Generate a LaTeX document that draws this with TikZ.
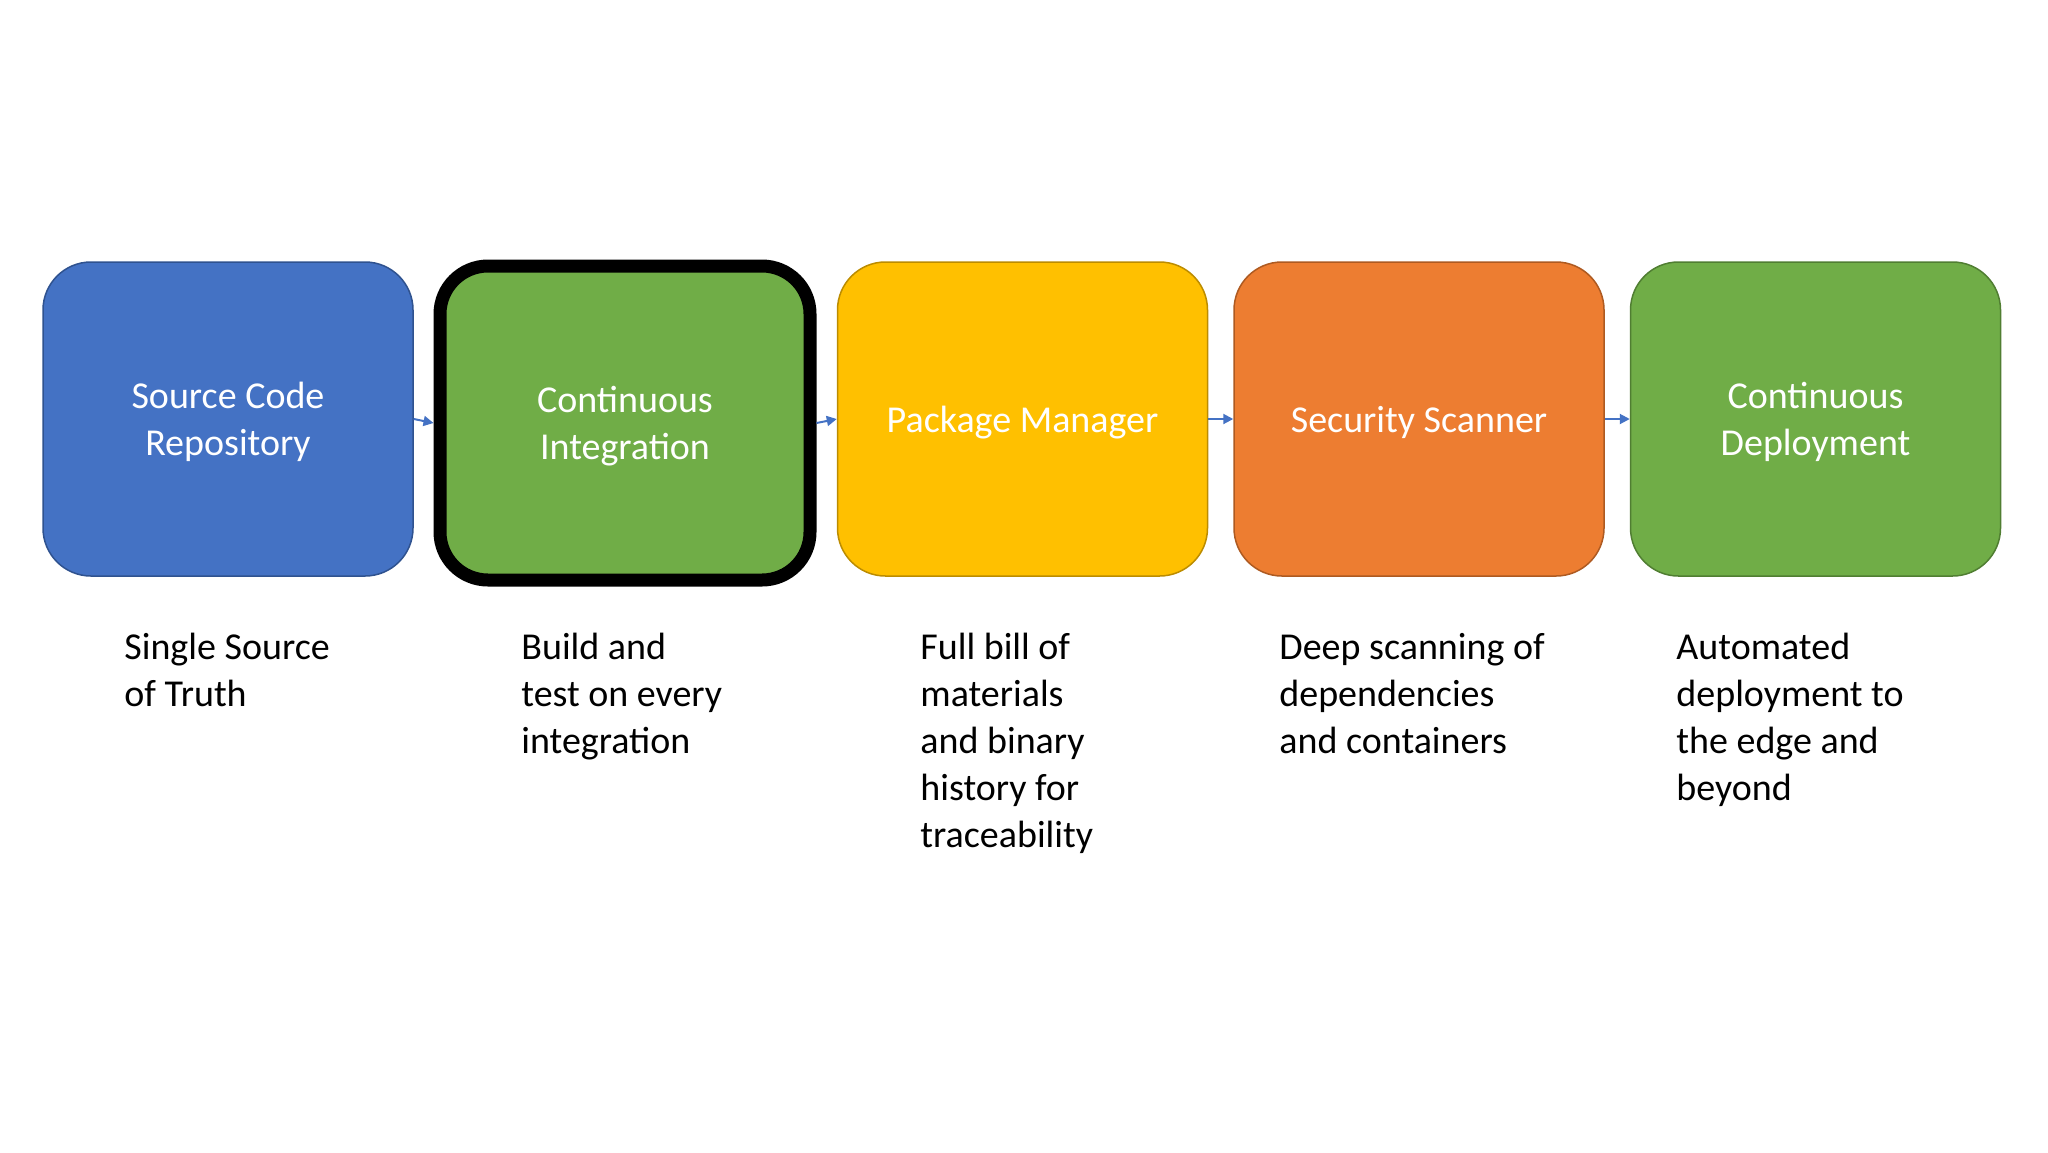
\documentclass[tikz,border=0pt]{standalone}
\usepackage{fontspec}
\setmainfont{Carlito}
\usetikzlibrary{arrows.meta}
\definecolor{cblue}{HTML}{4472C4}
\definecolor{cblueb}{HTML}{2F528F}
\definecolor{cgreen}{HTML}{70AD47}
\definecolor{cgreenb}{HTML}{507E32}
\definecolor{cyellow}{HTML}{FFC000}
\definecolor{cyellowb}{HTML}{BC8C00}
\definecolor{corange}{HTML}{ED7D31}
\definecolor{corangeb}{HTML}{AE5A21}
\newcommand{\desctext}[1]{\fontsize{19pt}{23.5pt}\selectfont\begin{tabular}[t]{@{}l@{}}#1\end{tabular}}
\tikzset{
  stagebox/.style={rounded corners=24pt, minimum width=185pt, minimum height=157pt,
    inner sep=0pt, align=center, text=white, line width=0.75pt, text depth=0pt,
    font=\fontsize{19pt}{23.5pt}\selectfont},
  desc/.style={anchor=base west, inner sep=0pt, text=black},
  flow/.style={draw=cblue, line width=1pt, -{Triangle[length=5pt,width=5pt]}}
}
\begin{document}
\begin{tikzpicture}[x=0.5pt,y=-0.5pt]
\useasboundingbox[fill=white] (0,0) rectangle (2048,1152);
\node[stagebox, fill=cblue, draw=cblueb] (b1) at (228,419) {Source Code\\Repository};
\node[stagebox, fill=cgreen, draw=black, line width=6.5pt] (b2) at (625,423) {Continuous\\Integration};
\node[stagebox, fill=cyellow, draw=cyellowb] (b3) at (1022.5,419) {Package Manager};
\node[stagebox, fill=corange, draw=corangeb] (b4) at (1419,419) {Security Scanner};
\node[stagebox, fill=cgreen, draw=cgreenb] (b5) at (1815.5,419) {Continuous\\Deployment};
\draw[flow] (b1.east) -- (b2.west);
\draw[flow] (b2.east) -- (b3.west);
\draw[flow] (b3.east) -- (b4.west);
\draw[flow] (b4.east) -- (b5.west);
\node[desc] (d1) at (124,659) {\desctext{Single Source\\of Truth}};
\node[desc] (d2) at (521,659) {\desctext{Build and\\test on every\\integration}};
\node[desc] (d3) at (920,659) {\desctext{Full bill of\\materials\\and binary\\history for\\traceability}};
\node[desc] (d4) at (1279,659) {\desctext{Deep scanning of\\dependencies\\and containers}};
\node[desc] (d5) at (1676,659) {\desctext{Automated\\deployment to\\the edge and\\beyond}};
\end{tikzpicture}
\end{document}
